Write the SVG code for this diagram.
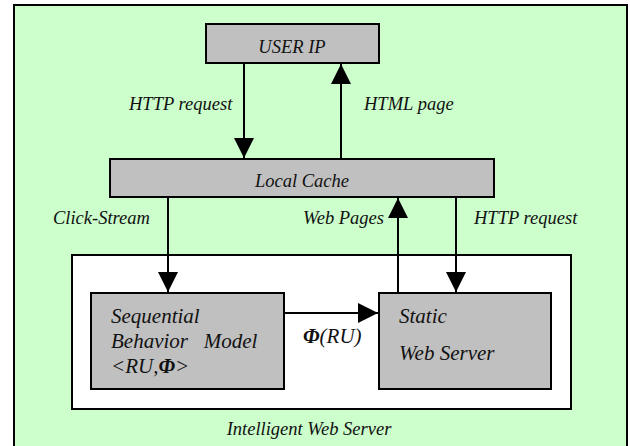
<svg xmlns="http://www.w3.org/2000/svg" width="630" height="446" viewBox="0 0 630 446">
  <style>
    .box { fill: #C0C0C0; stroke: #000; stroke-width: 2; }
    .frame { fill: #CCFFCC; stroke: #000; stroke-width: 2; }
    .inner { fill: #FFFFFF; stroke: #000; stroke-width: 2; }
    text { font-family: "Liberation Serif", "Times New Roman", serif; font-style: italic; fill: #111; }
    .t { font-size: 18.5px; }
    .tb { font-size: 21px; }
    .wire { stroke: #000; stroke-width: 2; fill: none; marker-end: url(#head); }
  </style>
  <defs>
    <marker id="head" markerUnits="userSpaceOnUse" markerWidth="20" markerHeight="20" viewBox="0 0 20 20" refX="20" refY="10" orient="auto">
      <path d="M0,0 L20,10 L0,20 Z" fill="#000"/>
    </marker>
  </defs>

  <!-- background frame (bottom edge runs past the canvas) -->
  <rect class="frame" x="14" y="5" width="613" height="450"/>

  <g id="intelligent-web-server">
    <rect class="inner" x="72" y="255" width="499" height="154"/>
    <text class="t" x="309" y="435" text-anchor="middle">Intelligent Web Server</text>
  </g>

  <g id="user-ip">
    <rect class="box" x="206" y="24" width="173" height="39"/>
    <text class="t" x="292" y="53" text-anchor="middle">USER IP</text>
  </g>

  <g id="local-cache">
    <rect class="box" x="110" y="159" width="384" height="38"/>
    <text class="t" x="302" y="187" text-anchor="middle">Local Cache</text>
  </g>

  <g id="sequential-model">
    <rect class="box" x="91" y="293" width="193" height="96"/>
    <text class="tb" x="111" y="323">Sequential</text>
    <text class="tb" x="111" y="348" xml:space="preserve">Behavior   Model</text>
    <text class="tb" x="111" y="373">&lt;RU,<tspan font-weight="bold">Φ</tspan>&gt;</text>
  </g>

  <g id="static-web-server">
    <rect class="box" x="379" y="293" width="172" height="96"/>
    <text class="tb" x="399" y="323">Static</text>
    <text class="tb" x="399" y="360">Web Server</text>
  </g>

  <g id="connectors">
    <line class="wire" x1="244" y1="63" x2="244" y2="158"/>
    <line class="wire" x1="341" y1="159" x2="341" y2="64"/>
    <line class="wire" x1="168" y1="197" x2="168" y2="292"/>
    <line class="wire" x1="398" y1="293" x2="398" y2="198"/>
    <line class="wire" x1="456" y1="197" x2="456" y2="292"/>
    <line class="wire" x1="284" y1="313" x2="378" y2="313"/>
    <text class="t" x="129" y="110">HTTP request</text>
    <text class="t" x="364" y="110">HTML page</text>
    <text class="t" x="53" y="224">Click-Stream</text>
    <text class="t" x="384" y="224" text-anchor="end">Web Pages</text>
    <text class="t" x="474" y="224">HTTP request</text>
    <text class="tb" x="303" y="343"><tspan font-weight="bold">Φ</tspan>(RU)</text>
  </g>
</svg>
